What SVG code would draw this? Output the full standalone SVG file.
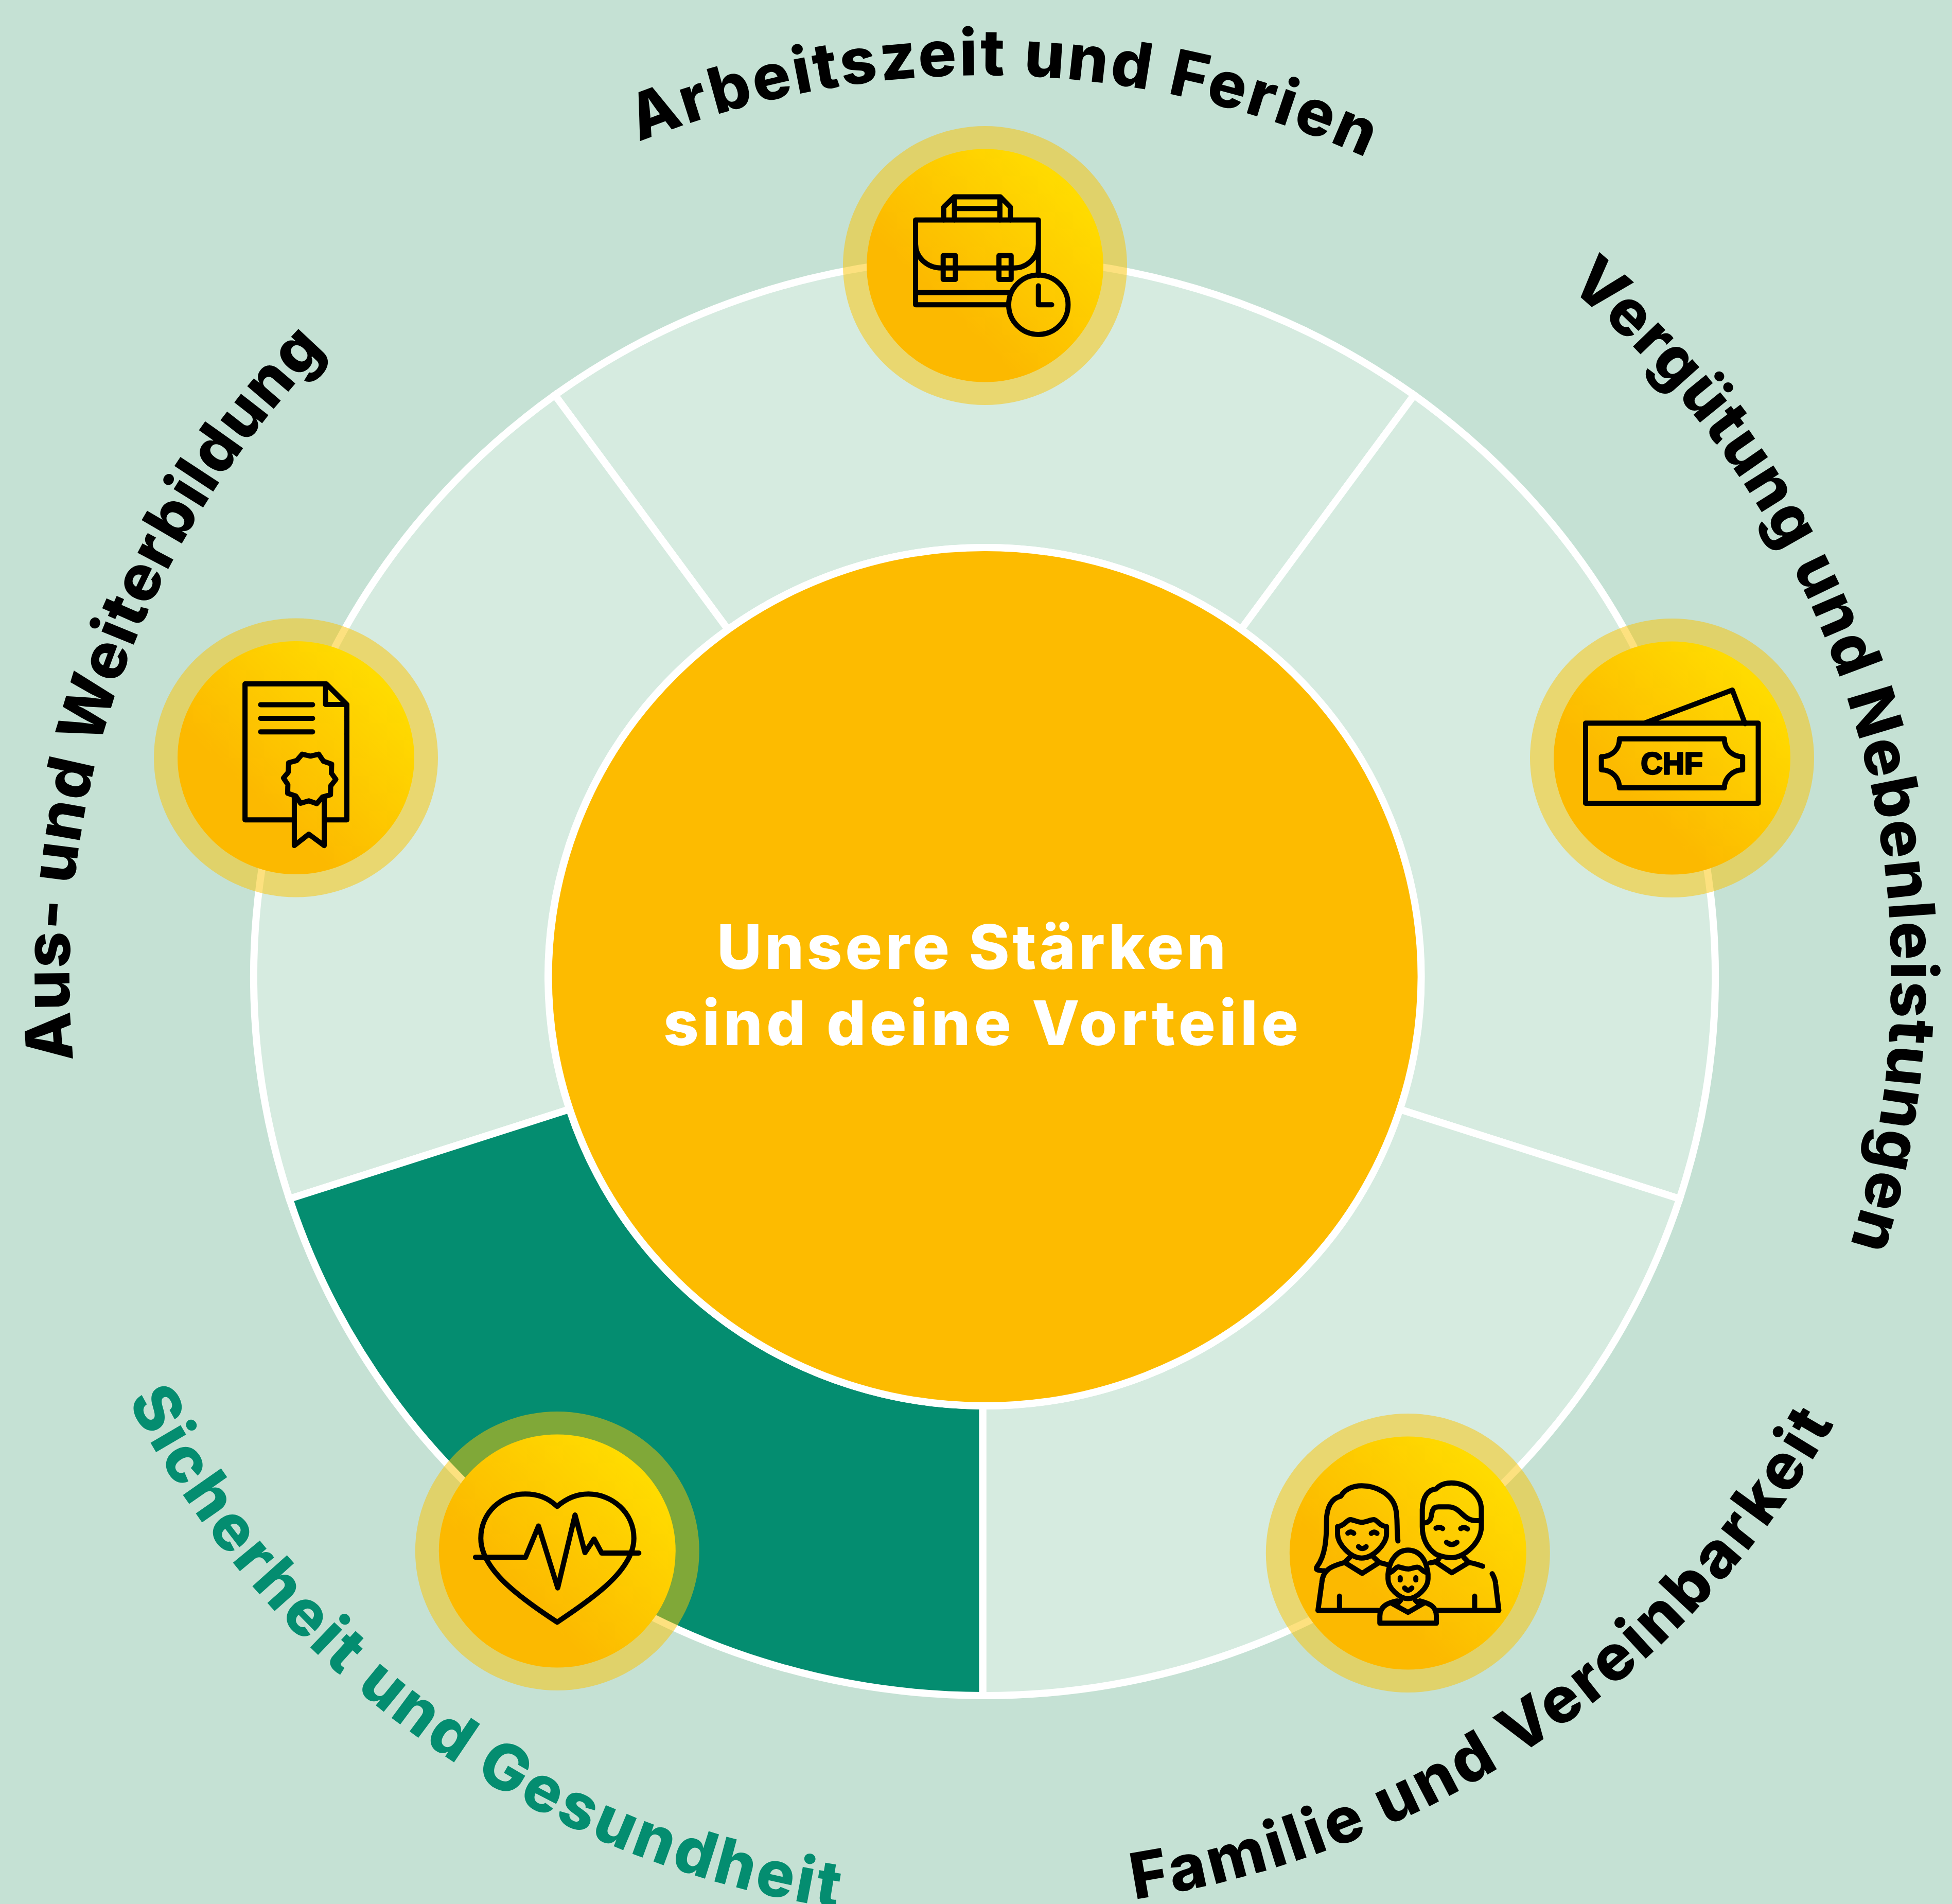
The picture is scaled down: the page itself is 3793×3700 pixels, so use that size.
<svg xmlns="http://www.w3.org/2000/svg" width="3793" height="3700" viewBox="0 0 3793 3700">
<style>
.sec{fill:#d6ebe0;stroke:#fff;stroke-width:14;stroke-linejoin:miter}
.halo{fill:#fcc300;opacity:.5}
.disc{fill:url(#g)}
.ic{fill:none;stroke:#000;stroke-width:27;stroke-linecap:round;stroke-linejoin:round}
.lab{font-family:Inter,"Liberation Sans",sans-serif;font-weight:800;font-size:124px;fill:#000}
.mid{font-family:Inter,"Liberation Sans",sans-serif;font-weight:800;font-size:120px;fill:#fff}
</style>
<defs>
<linearGradient id="g" x1=".33" y1=".67" x2=".84" y2=".16"><stop offset="0" stop-color="#fcb900"/><stop offset="1" stop-color="#ffdb00"/></linearGradient>
<path id="p1" d="M1241.2,275.8A1778,1752 0 0 1 2802,381.7"/>
<path id="p2" d="M3045.6,556A1762,1752 0 0 1 3509.9,2638.4"/>
<path id="p3" d="M142.6,2059.9A1778,1752 0 0 1 770.1,556"/>
<path id="p4" d="M247.7,2721.1A1864,1832 0 0 0 1913,3730"/>
<path id="p5" d="M2203.8,3691.2A1880,1815 0 0 0 3680,2518.7"/>
</defs>
<rect id="background" width="3793" height="3700" fill="#c5e1d4"/>
<g id="ring">
<path class="sec" d="M1078.3,767.8A1420,1397 0 0 1 2747.7,767.8L2411.5,1223.3A848,834 0 0 0 1414.5,1223.3Z"/>
<path class="sec" d="M2747.7,767.8A1420,1397 0 0 1 3263.6,2329.7L2719.5,2155.7A848,834 0 0 0 2411.5,1223.3Z"/>
<path class="sec" d="M3263.6,2329.7A1420,1397 0 0 1 1909.5,3295L1909.5,2732A848,834 0 0 0 2719.5,2155.7Z"/>
<path class="sec" d="M562.4,2329.7A1420,1397 0 0 1 1078.3,767.8L1414.5,1223.3A848,834 0 0 0 1106.5,2155.7Z"/>
<path class="sec" style="fill:#048d70" d="M1909.5,3295A1420,1397 0 0 1 562.4,2329.7L1106.5,2155.7A848,834 0 0 0 1909.5,2732Z"/>
</g>
<g id="center">
<ellipse cx="1913.6" cy="1898" rx="848" ry="834" fill="#fdbb00" stroke="#fff" stroke-width="14"/>
<text class="mid" x="1393" y="1883" textLength="989">Unsere Stärken</text>
<text class="mid" x="1289" y="2031" textLength="1234">sind deine Vorteile</text>
</g>
<g id="node-arbeitszeit">
<ellipse class="halo" cx="1914" cy="516" rx="276" ry="271"/><ellipse class="disc" cx="1914" cy="516" rx="230" ry="226.5"/>
<g transform="translate(1620,230) scale(.36996)" class="ic">
<path d="M918,979H430V534H1075V825M430,915H925M430,660C430,730 490,786 565,786H948C1015,786 1075,730 1075,660"/>
<rect x="575" y="721" width="64" height="125"/><rect x="868" y="721" width="64" height="125"/>
<path d="M578,534V466L633,412H875L928,466V534M634,412V534M873,412V534M634,474H873"/>
<circle cx="1075" cy="979" r="156"/><path d="M1075,880V979H1145"/>
</g>
<text class="lab"><textPath href="#p1" style="letter-spacing:4.5px">Arbeitszeit und Ferien</textPath></text>
</g>
<g id="node-verguetung">
<ellipse class="halo" cx="3249" cy="1473" rx="276" ry="271"/><ellipse class="disc" cx="3249" cy="1473" rx="230" ry="226.5"/>
<g transform="translate(2960,1190) scale(.36996)" class="ic">
<path d="M327,582H1234V1003H327ZM640,580L1098,408L1165,585"/>
<path d="M505,664H1056C1056,720 1100,758 1152,758V827C1100,827 1056,870 1056,922H505C505,870 465,827 410,827V758C465,758 505,720 505,664Z"/>
<text x="780" y="848" text-anchor="middle" style="font-family:'Liberation Sans',sans-serif;font-weight:700;font-size:158px;fill:#000;stroke-width:9">CHF</text>
</g>
<text class="lab"><textPath href="#p2" style="letter-spacing:2.2px">Vergütung und Nebenleistungen</textPath></text>
</g>
<g id="node-weiterbildung">
<ellipse class="halo" cx="575" cy="1472.5" rx="276" ry="271"/><ellipse class="disc" cx="575" cy="1472.5" rx="230" ry="226.5"/>
<g transform="translate(290,1190) scale(.36996)" class="ic">
<path d="M762,1090H503V376H930L1038,484V1090H920M926,376V484H1038M585,485H858M585,557H858M585,628H858"/>
<path d="M762,965V1225L838,1165L919,1225V970"/>
<path d="M803,745L847,755L890,745L915,782L958,797L957,845L980,877L953,912L952,958L910,970L880,1005L838,990L795,1003L770,965L727,950L728,905L705,870L730,840L732,790L775,778Z"/>
</g>
<text class="lab"><textPath href="#p3" style="letter-spacing:2px">Aus- und Weiterbildung</textPath></text>
</g>
<g id="node-sicherheit">
<ellipse class="halo" cx="1082.8" cy="3014" rx="276" ry="271"/><ellipse class="disc" cx="1082.8" cy="3014" rx="230" ry="226.5"/>
<g transform="translate(790,2725) scale(.36996)" class="ic">
<path d="M791,547C740,500 690,482 622,482C500,482 390,580 390,715C390,880 600,1030 791,1155C980,1030 1194,880 1194,715C1194,580 1080,482 955,482C890,482 840,505 791,547Z"/>
<path d="M362,814H625L693,650L794,975L885,592L937,790L985,718L1025,792H1220"/>
</g>
<text class="lab" style="fill:#048d70"><textPath href="#p4" style="letter-spacing:5.2px">Sicherheit und Gesundheit</textPath></text>
</g>
<g id="node-familie">
<ellipse class="halo" cx="2735.8" cy="3018" rx="276" ry="271"/><ellipse class="disc" cx="2735.8" cy="3018" rx="230" ry="226.5"/>
<g transform="translate(2450,2730) scale(.36996)" class="ic">
<path d="M720,715C712,650 720,590 708,545C690,470 610,425 530,425C480,425 440,445 420,480C370,490 345,540 345,610C345,700 340,790 295,850C285,868 300,870 335,872"/>
<path d="M403,640C440,635 450,605 470,603C490,605 510,617 530,617C550,617 575,603 595,603C615,607 620,635 660,640V680C660,730 590,805 530,805C470,805 403,730 403,680Z"/>
<path d="M457,674Q472,662 488,675M580,675Q595,662 610,675M513,745Q533,765 553,745"/>
<path d="M468,800L440,828L532,885L622,828L592,800M622,828L660,838M440,828C380,845 325,860 320,935L300,1080H615M413,1005V1080"/>
<path d="M920,785C870,750 848,700 848,640V550C850,480 880,445 920,442C940,420 970,410 1000,410C1080,410 1158,470 1158,550V640C1158,720 1070,803 1003,803C970,803 945,795 920,785"/>
<path d="M862,620C905,615 890,570 905,550C910,538 925,536 935,536H985C1050,536 1060,608 1130,608H1158"/>
<path d="M920,648Q938,638 955,650M1050,650Q1068,638 1085,652M975,722Q1003,745 1030,722"/>
<path d="M940,800L922,828L1003,882L1092,828L1065,800M1092,828C1120,832 1145,840 1165,848M1215,887C1225,905 1232,920 1233,940L1250,1080H925M1123,1005V1080M890,830L922,823"/>
<path d="M668,890C675,810 720,763 773,763C830,763 870,810 878,890V915C878,960 820,1018 773,1018C725,1018 668,960 668,915Z"/>
<path d="M680,880C705,870 710,845 730,853C750,858 760,862 775,862C790,862 810,850 825,853C840,855 845,875 870,880"/>
<path d="M732,908V920M814,908V920M755,962Q773,985 793,962"/>
<path d="M715,1030C680,1038 625,1050 625,1110V1147H922V1110C922,1050 870,1040 835,1030M692,1045L773,1090L856,1042M735,1025L718,1045M810,1025L830,1045"/>
</g>
<text class="lab"><textPath href="#p5" style="letter-spacing:5.8px">Familie und Vereinbarkeit</textPath></text>
</g>
<g id="connectors"/>
</svg>
